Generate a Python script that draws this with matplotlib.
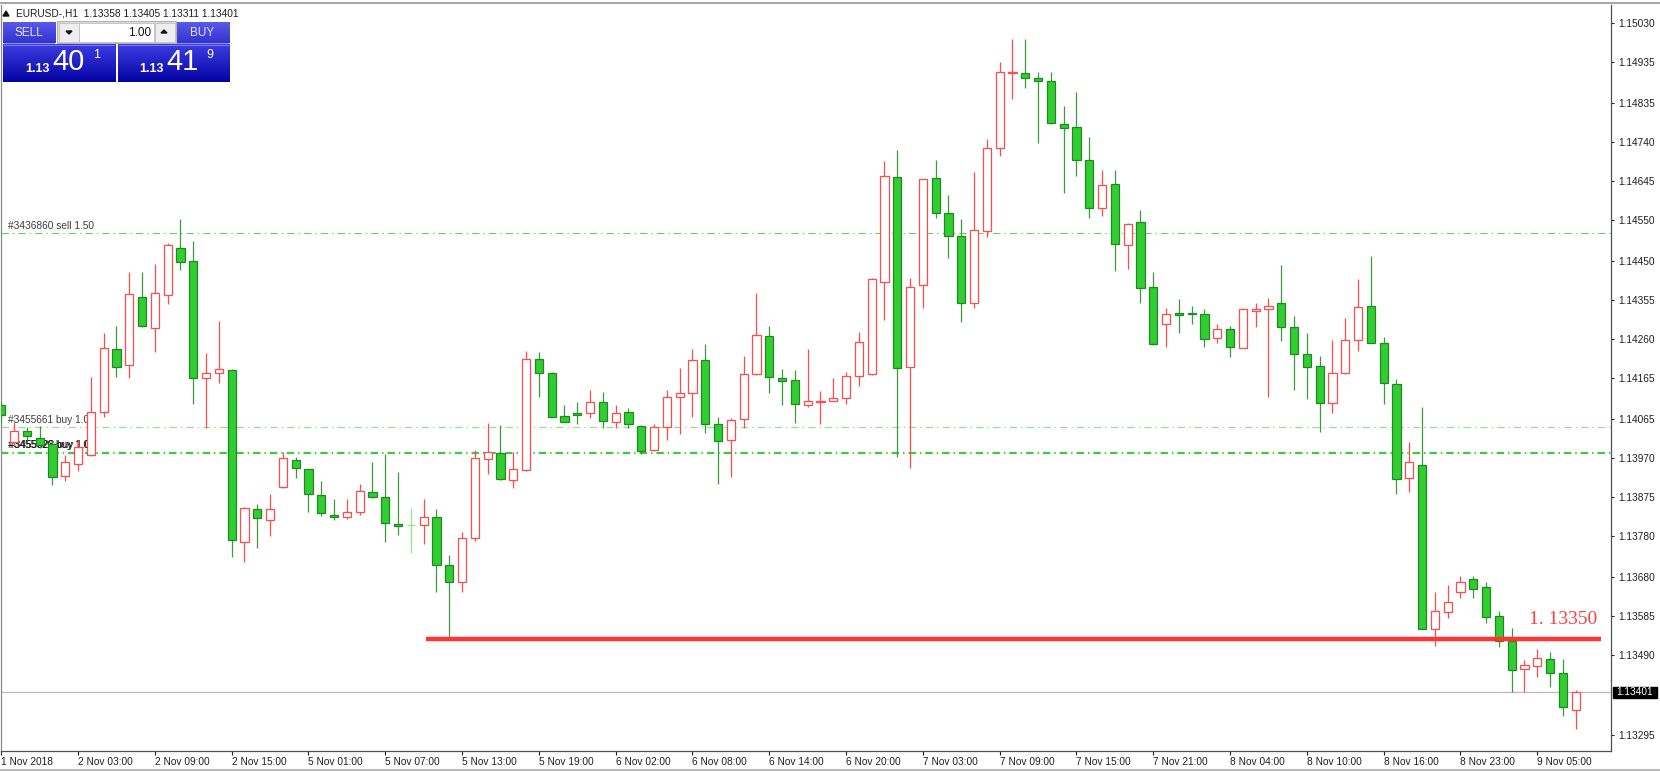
import numpy as np
import matplotlib
matplotlib.use("Agg")
import matplotlib.pyplot as plt
from matplotlib.patches import Rectangle, Polygon
from matplotlib.colors import LinearSegmentedColormap
from matplotlib.transforms import blended_transform_factory

plt.rcParams['font.family'] = ['Liberation Sans', 'DejaVu Sans']
plt.rcParams['lines.scale_dashes'] = False

# ---------------- data (EURUSD H1) ----------------
opens = [1.14100, 1.14010, 1.14037, 1.14019, 1.14005, 1.13927, 1.13957, 1.13978, 1.14083, 1.14236,
         1.14197, 1.14362, 1.14287, 1.14367, 1.14482, 1.14450, 1.14166, 1.14178, 1.14185, 1.13766,
         1.13846, 1.13820, 1.13900, 1.13966, 1.13944, 1.13881, 1.13832, 1.13827, 1.13839, 1.13888,
         1.13876, 1.13810, 1.13808, 1.13808, 1.13827, 1.13711, 1.13669, 1.13776, 1.13969, 1.13983,
         1.13917, 1.13941, 1.14212, 1.14178, 1.14073, 1.14080, 1.14080, 1.14107, 1.14059, 1.14083,
         1.14049, 1.13990, 1.14047, 1.14119, 1.14129, 1.14210, 1.14054, 1.14014, 1.14066, 1.14175,
         1.14268, 1.14166, 1.14161, 1.14100, 1.14107, 1.14110, 1.14116, 1.14170, 1.14175, 1.14400,
         1.14655, 1.14192, 1.14392, 1.14653, 1.14568, 1.14511, 1.14348, 1.14523, 1.14726, 1.14909,
         1.14908, 1.14896, 1.14889, 1.14784, 1.14776, 1.14696, 1.14580, 1.14638, 1.14490, 1.14546,
         1.14388, 1.14298, 1.14324, 1.14325, 1.14322, 1.14263, 1.14285, 1.14239, 1.14329, 1.14334,
         1.14348, 1.14290, 1.14224, 1.14194, 1.14104, 1.14178, 1.14258, 1.14341, 1.14251, 1.14151,
         1.13922, 1.13954, 1.13555, 1.13596, 1.13645, 1.13676, 1.13657, 1.13586, 1.13525, 1.13457,
         1.13465, 1.13481, 1.13448, 1.13358]

highs = [1.14109, 1.14059, 1.14047, 1.14049, 1.14010, 1.13978, 1.14014, 1.14168, 1.14275, 1.14292,
         1.14424, 1.14424, 1.14443, 1.14494, 1.14553, 1.14499, 1.14227, 1.14305, 1.14187, 1.13851,
         1.13858, 1.13883, 1.13986, 1.13974, 1.13945, 1.13915, 1.13871, 1.13871, 1.13908, 1.13961,
         1.13981, 1.13936, 1.13849, 1.13871, 1.13846, 1.13735, 1.13791, 1.13990, 1.14056, 1.14051,
         1.13986, 1.14232, 1.14229, 1.14179, 1.14100, 1.14107, 1.14137, 1.14132, 1.14100, 1.14092,
         1.14050, 1.14054, 1.14137, 1.14190, 1.14236, 1.14248, 1.14071, 1.14068, 1.14220, 1.14372,
         1.14292, 1.14187, 1.14185, 1.14236, 1.14134, 1.14166, 1.14180, 1.14277, 1.14409, 1.14694,
         1.14721, 1.14409, 1.14651, 1.14696, 1.14611, 1.14553, 1.14667, 1.14748, 1.14935, 1.14991,
         1.14991, 1.14911, 1.14911, 1.14828, 1.14862, 1.14752, 1.14672, 1.14672, 1.14542, 1.14575,
         1.14424, 1.14336, 1.14358, 1.14341, 1.14334, 1.14298, 1.14292, 1.14335, 1.14348, 1.14360,
         1.14440, 1.14317, 1.14275, 1.14220, 1.14258, 1.14312, 1.14407, 1.14463, 1.14265, 1.14163,
         1.14010, 1.14095, 1.13645, 1.13662, 1.13683, 1.13683, 1.13669, 1.13598, 1.13557, 1.13479,
         1.13506, 1.13498, 1.13481, 1.13405]

lows = [1.14056, 1.14002, 1.14014, 1.13995, 1.13905, 1.13915, 1.13939, 1.13976, 1.14071, 1.14168,
        1.14166, 1.14290, 1.14229, 1.14346, 1.14428, 1.14102, 1.14044, 1.14154, 1.13730, 1.13718,
        1.13752, 1.13780, 1.13898, 1.13922, 1.13839, 1.13830, 1.13820, 1.13822, 1.13832, 1.13874,
        1.13766, 1.13784, 1.13740, 1.13761, 1.13645, 1.13535, 1.13645, 1.13768, 1.13932, 1.13917,
        1.13898, 1.13939, 1.14119, 1.14070, 1.14058, 1.14054, 1.14068, 1.14044, 1.14044, 1.14044,
        1.13981, 1.13988, 1.14014, 1.14029, 1.14071, 1.14031, 1.13908, 1.13924, 1.14044, 1.14174,
        1.14129, 1.14100, 1.14056, 1.14095, 1.14054, 1.14109, 1.14102, 1.14146, 1.14173, 1.14307,
        1.13974, 1.13946, 1.14336, 1.14556, 1.14458, 1.14302, 1.14336, 1.14509, 1.14706, 1.14845,
        1.14871, 1.14738, 1.14785, 1.14616, 1.14658, 1.14556, 1.14560, 1.14426, 1.14431, 1.14348,
        1.14246, 1.14241, 1.14275, 1.14298, 1.14241, 1.14251, 1.14217, 1.14238, 1.14290, 1.14119,
        1.14256, 1.14137, 1.14114, 1.14035, 1.14080, 1.14175, 1.14232, 1.14250, 1.14102, 1.13883,
        1.13888, 1.13553, 1.13513, 1.13581, 1.13630, 1.13630, 1.13569, 1.13510, 1.13401, 1.13401,
        1.13437, 1.13413, 1.13342, 1.13311]

closes = [1.14076, 1.14037, 1.14024, 1.14002, 1.13924, 1.13961, 1.13998, 1.14083, 1.14239, 1.14192,
          1.14370, 1.14292, 1.14372, 1.14490, 1.14448, 1.14166, 1.14178, 1.14187, 1.13771, 1.13849,
          1.13825, 1.13846, 1.13971, 1.13946, 1.13883, 1.13837, 1.13827, 1.13839, 1.13891, 1.13876,
          1.13813, 1.13805, 1.13808, 1.13827, 1.13711, 1.13669, 1.13776, 1.13971, 1.13986, 1.13920,
          1.13944, 1.14212, 1.14178, 1.14071, 1.14059, 1.14076, 1.14107, 1.14061, 1.14080, 1.14054,
          1.13988, 1.14047, 1.14119, 1.14129, 1.14210, 1.14054, 1.14012, 1.14064, 1.14175, 1.14270,
          1.14168, 1.14158, 1.14102, 1.14109, 1.14110, 1.14116, 1.14170, 1.14253, 1.14407, 1.14658,
          1.14190, 1.14388, 1.14650, 1.14568, 1.14511, 1.14348, 1.14526, 1.14726, 1.14911, 1.14911,
          1.14896, 1.14889, 1.14786, 1.14774, 1.14696, 1.14580, 1.14636, 1.14492, 1.14541, 1.14385,
          1.14248, 1.14322, 1.14320, 1.14321, 1.14260, 1.14285, 1.14241, 1.14334, 1.14334, 1.14341,
          1.14290, 1.14224, 1.14192, 1.14104, 1.14178, 1.14258, 1.14338, 1.14251, 1.14154, 1.13920,
          1.13961, 1.13555, 1.13598, 1.13621, 1.13669, 1.13652, 1.13584, 1.13525, 1.13455, 1.13467,
          1.13484, 1.13448, 1.13363, 1.13401]

x_labels = ["1 Nov 2018", "2 Nov 03:00", "2 Nov 09:00", "2 Nov 15:00", "5 Nov 01:00",
            "5 Nov 07:00", "5 Nov 13:00", "5 Nov 19:00", "6 Nov 02:00", "6 Nov 08:00",
            "6 Nov 14:00", "6 Nov 20:00", "7 Nov 03:00", "7 Nov 09:00", "7 Nov 15:00",
            "7 Nov 21:00", "8 Nov 04:00", "8 Nov 10:00", "8 Nov 16:00", "8 Nov 23:00",
            "9 Nov 05:00"]
x_label_bars = [0, 6, 12, 18, 24, 30, 36, 42, 48, 54, 60, 66, 72, 78, 84, 90, 96, 102, 108, 114, 120]

y_ticks = [1.15030, 1.14935, 1.14835, 1.14740, 1.14645, 1.14550, 1.14450, 1.14355, 1.14260,
           1.14165, 1.14065, 1.13970, 1.13875, 1.13780, 1.13680, 1.13585, 1.13490, 1.13295]

sell_level = 1.14518
sell_label = "#3436860 sell 1.50"
buy1_level = 1.14045
buy1_label = "#3455661 buy 1.00"
buy2_level = 1.13984
buy2_labels = ["#3455620 buy 1.00", "#3455628 buy 1.00"]
support_level = 1.13529
support_text = "1. 13350"
support_start, support_end = 33.2, 124.95
bid = 1.13401
header = "EURUSD-,H1  1.13358 1.13405 1.13311 1.13401"

# ---------------- figure ----------------
W, H = 1660, 772
fig = plt.figure(figsize=(W / 100, H / 100), dpi=100)
fig.patch.set_facecolor("white")
ax = fig.add_axes([1 / W, 21 / H, 1610 / W, 746 / H])
ax.set_facecolor("white")
ax.set_xlim(-0.023, 125.76)
ax.set_ylim(1.13257, 1.15074)

o = np.array(opens); h = np.array(highs); l = np.array(lows); c = np.array(closes)
x = np.arange(len(o))
up = c > o
dn = c < o
dj = c == o
bw = 0.65

UP = "#FF4B4B"
DN_FILL = "#32CD32"
DN_EDGE = "#1F8A1F"
DN_WICK = "#3E9A3E"
DOJI = "#8CEB8C"

ax.vlines(x[up], l[up], h[up], color=UP, lw=0.9, zorder=3)
ax.vlines(x[dn], l[dn], h[dn], color=DN_WICK, lw=0.9, zorder=3)
ax.vlines(x[dj], l[dj], h[dj], color=DOJI, lw=0.9, zorder=3)
ax.hlines(o[dj], x[dj] - bw / 2, x[dj] + bw / 2, color=DOJI, lw=0.9, zorder=4)
ax.bar(x[up], (c - o)[up], bottom=o[up], width=bw, facecolor="white",
       edgecolor=UP, linewidth=0.9, zorder=4)
ax.bar(x[dn], (o - c)[dn], bottom=c[dn], width=bw, facecolor=DN_FILL,
       edgecolor=DN_EDGE, linewidth=0.9, zorder=4)

# order lines
dd = (5.3, 2.9, 1.0, 2.9)
ax.axhline(sell_level, color="#5ED35E", lw=0.8, dashes=dd, zorder=2)
ax.axhline(buy1_level, color="#93E193", lw=0.9, dashes=dd, zorder=2)
ax.axhline(buy2_level, color="#40C840", lw=1.6, dashes=dd, zorder=2)
ax.axhline(bid, color="#B8B8C8", lw=0.9, zorder=1)

tr = blended_transform_factory(ax.transAxes, ax.transData)
ax.text(7.5 / 1610, sell_level + 0.00006, sell_label, transform=tr, fontsize=7.3,
        color="#3C3C3C", va="bottom", zorder=2.5)
ax.text(7.5 / 1610, buy1_level + 0.00006, buy1_label, transform=tr, fontsize=7.3,
        color="#3C3C3C", va="bottom", zorder=2.5)
for k, lab in enumerate(buy2_labels):
    ax.text((7.5 + 0.6 * k) / 1610, buy2_level + 0.00006, lab, transform=tr, fontsize=7.3,
            color="#1A1A1A", va="bottom", zorder=2.5)

# support line
ax.hlines(support_level, support_start, support_end, color="#FF3535", lw=3.2, zorder=6)

# axes styling
for s in ["top"]:
    ax.spines[s].set_visible(False)
ax.spines["left"].set_color("#8A8A8A")
ax.spines["right"].set_color("#505050")
ax.spines["bottom"].set_color("#505050")
for s in ["left", "right", "bottom"]:
    ax.spines[s].set_linewidth(0.9)

ax.yaxis.tick_right()
ax.set_yticks(y_ticks)
ax.set_yticklabels([f"{v:.5f}" for v in y_ticks])
ax.tick_params(axis="y", direction="out", length=2.5, width=0.8, pad=2.5,
               labelsize=7.3, colors="#202020")
ax.set_xticks(x_label_bars)
ax.set_xticklabels(x_labels, ha="left")
ax.tick_params(axis="x", direction="out", length=3, width=0.8, pad=1.5,
               labelsize=7.3, colors="#202020")

# ---------------- overlay (pixel coordinates) ----------------
ov = fig.add_axes([0, 0, 1, 1], zorder=10)
ov.set_xlim(0, W)
ov.set_ylim(H, 0)
ov.axis("off")


def grad_rect(x0, y0, x1, y1, ctop, cbot, z=11):
    cmap = LinearSegmentedColormap.from_list("g", [ctop, cbot])
    arr = np.linspace(0, 1, 64).reshape(-1, 1)
    ov.imshow(arr, cmap=cmap, extent=(x0, x1, y1, y0), aspect="auto",
              interpolation="bilinear", zorder=z)


# window frame lines
ov.plot([0, W], [3, 3], color="#A8A8A8", lw=1.5, zorder=11)
ov.plot([0, W], [770, 770], color="#B8B8B8", lw=1.5, zorder=11)

# header
ov.add_patch(Polygon([(3, 16), (9, 16), (6, 11)], closed=True, color="#111111", zorder=12))
ov.text(16, 13, header, fontsize=7.3, color="#1E1E1E", va="center", ha="left", zorder=12)

# one-click panel
grad_rect(3, 22, 55, 43, "#5A5AE8", "#3232D0")
grad_rect(176, 22, 229, 43, "#5A5AE8", "#3232D0")
ov.add_patch(Rectangle((57, 21), 119, 22, facecolor="#DCDCDC", edgecolor="#B4B4B4", lw=0.8, zorder=11))
ov.add_patch(Rectangle((58.5, 22.5), 20, 19, facecolor="#EEEEEE", edgecolor="#C0C0C0", lw=0.6, zorder=12))
ov.add_patch(Rectangle((79, 22.5), 75, 19, facecolor="white", edgecolor="#C0C0C0", lw=0.6, zorder=12))
ov.add_patch(Rectangle((154.5, 22.5), 20, 19, facecolor="#EEEEEE", edgecolor="#C0C0C0", lw=0.6, zorder=12))
ov.add_patch(Polygon([(66, 31), (72, 31), (69, 34)], closed=True, color="#111111", zorder=13))
ov.add_patch(Polygon([(161, 33), (167, 33), (164, 30)], closed=True, color="#111111", zorder=13))
ov.text(29, 32.5, "SELL", fontsize=8.5, color="#E4E4FF", ha="center", va="center", zorder=13)
ov.text(202.5, 32.5, "BUY", fontsize=8.5, color="#E4E4FF", ha="center", va="center", zorder=13)
ov.text(151, 32.5, "1.00", fontsize=8.5, color="#111111", ha="right", va="center", zorder=13)

grad_rect(3, 44, 115, 82, "#3C3CE2", "#0404A4")
grad_rect(118, 44, 229, 82, "#3C3CE2", "#0404A4")
ov.plot([4, 114], [44.5, 44.5], color="#7A7AEE", lw=0.8, zorder=12)
ov.plot([119, 228], [44.5, 44.5], color="#7A7AEE", lw=0.8, zorder=12)
ov.plot([4, 54], [42.5, 42.5], color="#8080F0", lw=0.6, zorder=12)
ov.plot([177, 228], [42.5, 42.5], color="#8080F0", lw=0.6, zorder=12)

ov.text(25, 68.5, "1.13", fontsize=9, fontweight="bold", color="white", ha="left", va="center", zorder=13)
ov.text(52, 62, "40", fontsize=21, color="white", ha="left", va="center", zorder=13)
ov.text(93, 55.5, "1", fontsize=9, color="white", ha="left", va="center", zorder=13)
ov.text(139, 68.5, "1.13", fontsize=9, fontweight="bold", color="white", ha="left", va="center", zorder=13)
ov.text(166, 62, "41", fontsize=21, color="white", ha="left", va="center", zorder=13)
ov.text(206, 55.5, "9", fontsize=9, color="white", ha="left", va="center", zorder=13)

# bid price box on the price axis
ov.add_patch(Rectangle((1613, 686.5), 44, 11, facecolor="black", edgecolor="black", zorder=12))
ov.text(1635, 692.2, f"{bid:.5f}", fontsize=7.3, color="white", ha="center", va="center", zorder=13)

# support annotation
ov.text(1529, 619, support_text, fontsize=14, color="#FF4040", ha="left", va="center",
        family=["Liberation Serif", "DejaVu Serif"], zorder=13)

fig.savefig("out.png", dpi=100)
